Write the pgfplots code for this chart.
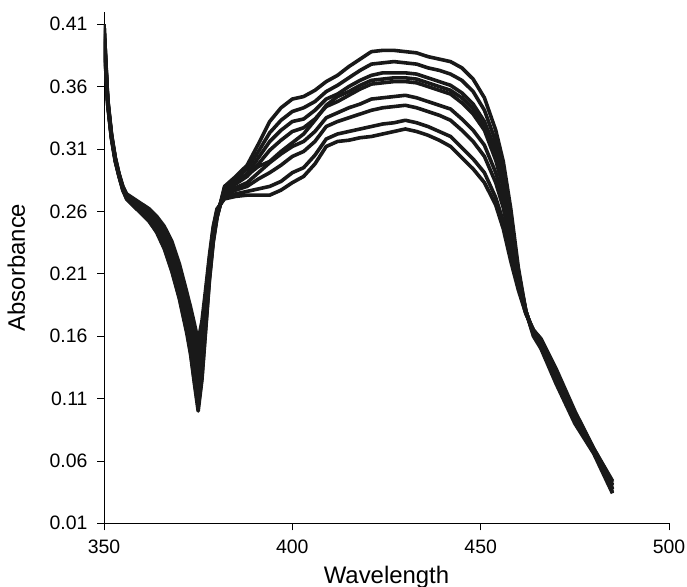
\documentclass[border=0pt]{standalone}
\usepackage{fontspec}
\setmainfont{Liberation Sans}
\usepackage{pgfplots}
\usepackage{pgfplotstable}
\pgfplotsset{compat=1.18}

% absorbance spectra (columns a..i = curves, top hump to lowest)
\pgfplotstableread{
x    a    b    c    d    e    f    g    h    i
350 .405 .410 .400 .396 .410 .402 .407 .398 .410
351 .345 .345 .346 .347 .347 .348 .349 .349 .350
352 .318 .318 .319 .319 .320 .320 .321 .321 .322
353 .300 .300 .301 .301 .301 .302 .302 .303 .303
354 .288 .288 .288 .289 .289 .289 .289 .290 .290
355 .277 .277 .278 .278 .278 .279 .279 .280 .280
356 .270 .270 .271 .271 .272 .272 .273 .273 .274
358 .264 .264 .265 .266 .267 .268 .268 .269 .270
360 .258 .258 .260 .261 .262 .263 .264 .265 .266
362 .252 .252 .254 .255 .257 .258 .259 .261 .262
364 .243 .244 .246 .247 .249 .251 .252 .254 .256
366 .230 .231 .234 .236 .238 .241 .243 .245 .248
368 .212 .213 .217 .220 .223 .227 .229 .233 .236
370 .190 .191 .196 .200 .203 .207 .210 .214 .218
372 .162 .164 .169 .173 .177 .182 .185 .190 .195
373 .145 .147 .153 .158 .162 .168 .172 .178 .183
374 .122 .124 .132 .138 .144 .151 .156 .163 .170
375 .100 .103 .111 .119 .126 .134 .140 .148 .156
376 .125 .127 .134 .141 .147 .154 .158 .165 .172
377 .165 .167 .172 .176 .180 .185 .188 .193 .198
378 .205 .206 .209 .212 .214 .217 .219 .222 .225
379 .235 .236 .238 .239 .241 .243 .244 .246 .248
380 .255 .255 .256 .257 .258 .259 .260 .261 .262
382 .280 .279 .277 .277 .276 .274 .273 .271 .270
385 .288 .286 .284 .283 .282 .279 .277 .274 .272
388 .297 .294 .290 .289 .288 .283 .280 .276 .273
391 .314 .308 .303 .296 .298 .291 .286 .278 .273
394 .332 .323 .316 .300 .309 .299 .291 .280 .273
397 .343 .333 .325 .308 .317 .306 .297 .284 .277
400 .350 .340 .332 .315 .324 .312 .304 .291 .283
403 .352 .343 .334 .322 .327 .316 .308 .295 .288
406 .357 .348 .341 .333 .334 .324 .316 .305 .298
409 .364 .356 .350 .345 .344 .335 .328 .318 .312
412 .369 .361 .354 .352 .348 .339 .332 .322 .316
415 .376 .367 .360 .356 .353 .343 .335 .324 .317
418 .382 .373 .365 .361 .358 .346 .338 .326 .319
421 .388 .378 .369 .365 .362 .350 .341 .328 .320
424 .389 .379 .371 .366 .363 .351 .343 .330 .322
427 .389 .380 .371 .367 .364 .352 .344 .331 .324
430 .388 .379 .371 .367 .364 .353 .345 .333 .326
433 .387 .378 .370 .366 .363 .351 .343 .331 .324
436 .384 .375 .367 .363 .360 .348 .340 .328 .321
439 .382 .373 .364 .360 .357 .345 .337 .324 .317
442 .380 .370 .361 .357 .354 .342 .333 .320 .312
445 .375 .365 .355 .351 .347 .334 .325 .311 .303
448 .366 .356 .346 .342 .338 .325 .316 .302 .294
451 .351 .341 .332 .328 .325 .313 .304 .291 .283
454 .325 .316 .309 .305 .301 .291 .283 .271 .265
456 .300 .292 .286 .282 .279 .270 .263 .252 .246
458 .262 .256 .251 .248 .246 .238 .233 .225 .220
460 .215 .212 .210 .208 .207 .204 .202 .199 .197
462 .180 .180 .180 .180 .180 .179 .179 .178 .178
464 .160 .161 .162 .162 .162 .163 .164 .165 .165
466 .150 .151 .152 .153 .153 .155 .156 .157 .158
470 .122 .124 .125 .126 .127 .129 .130 .133 .134
475 .090 .091 .093 .093 .094 .096 .097 .099 .100
480 .066 .067 .067 .067 .068 .068 .069 .070 .070
485 .034 .035 .037 .037 .038 .040 .041 .043 .044
}\spectra

\begin{document}
\begin{tikzpicture}
\begin{axis}[
    scale only axis,
    width=565bp, height=511.6bp,
    xmin=350, xmax=500, ymin=0.01, ymax=0.42,
    xtick={350,400,450,500},
    ytick={0.01,0.06,0.11,0.16,0.21,0.26,0.31,0.36,0.41},
    yticklabel style={/pgf/number format/fixed, /pgf/number format/fixed zerofill,
      /pgf/number format/precision=2, xshift=-6bp},
    axis x line*=bottom, axis y line*=left,
    tick align=outside,
    major tick length=7bp,
    tick style={black, line width=0.8bp},
    axis line style={line width=0.8bp},
    /pgf/number format/assume math mode=true,
    tick label style={font=\fontsize{19.5}{22}\selectfont},
    xticklabel style={yshift=-6bp},
    xlabel=Wavelength, ylabel=Absorbance,
    every axis x label/.style={at={([yshift=-59.7bp]axis description cs:0.5,0)},
      anchor=base, font=\fontsize{24}{28}\selectfont},
    every axis y label/.style={at={([xshift=-79bp]axis description cs:0,0.5)},
      anchor=base, rotate=90, font=\fontsize{24}{28}\selectfont},
  ]
  \pgfplotsinvokeforeach{a,b,c,d,e,f,g,h,i}{
    \addplot[black!90, line width=3.6bp, line join=round, no markers]
      table[x=x, y=#1]{\spectra};
  }
\end{axis}
\pgfresetboundingbox
\useasboundingbox (-104bp,-63.7bp) rectangle (583bp,523.3bp);
\end{tikzpicture}
\end{document}
